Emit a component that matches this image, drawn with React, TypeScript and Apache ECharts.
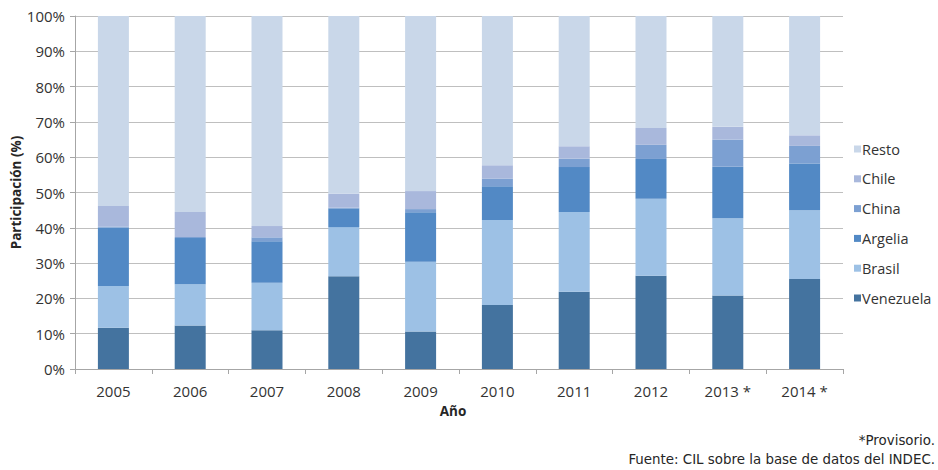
import React, { useEffect, useRef } from "react";
import * as echarts from "echarts";

const years = ["2005", "2006", "2007", "2008", "2009", "2010", "2011", "2012", "2013 *", "2014 *"];
const venezuela = [11.7, 12.3, 11.0, 26.3, 10.6, 18.1, 21.9, 26.4, 20.8, 25.5];
const brasil = [11.8, 11.7, 13.4, 13.9, 19.8, 24.1, 22.6, 21.8, 21.9, 19.5];
const argelia = [16.6, 13.1, 11.8, 5.3, 14.0, 9.6, 12.7, 11.3, 14.6, 13.2];
const china = [0.3, 0.3, 1.1, 0.2, 0.9, 2.2, 2.4, 4.0, 7.7, 5.0];
const chile = [5.8, 7.1, 3.2, 4.0, 5.1, 3.7, 3.5, 4.8, 3.6, 3.0];
const resto = [53.8, 55.5, 59.5, 50.3, 49.6, 42.3, 36.9, 31.7, 31.4, 33.8];
const yTicks = [0, 10, 20, 30, 40, 50, 60, 70, 80, 90, 100];

const FONT = "'Open Sans', 'Liberation Sans', sans-serif";
const NOTE_FONT = "DejaVu Sans";

const seriesDefs = [
  { name: "Venezuela", data: venezuela, color: "#44739f" },
  { name: "Brasil", data: brasil, color: "#9dc1e5" },
  { name: "Argelia", data: argelia, color: "#5289c5" },
  { name: "China", data: china, color: "#7ca0d2" },
  { name: "Chile", data: chile, color: "#a9b8dc" },
  { name: "Resto", data: resto, color: "#c9d7e9" },
];

export default function App() {
  const ref = useRef<HTMLDivElement>(null);
  useEffect(() => {
    if (!ref.current) return;
    const chart = echarts.init(ref.current, null, { renderer: "svg" });
    chart.setOption({
      animation: false,
      backgroundColor: "#ffffff",
      textStyle: { fontFamily: FONT },
      grid: { left: 75, right: 95, top: 16, bottom: 101, containLabel: false, outerBoundsMode: "none" },
      legend: {
        orient: "vertical",
        left: 854,
        top: 140,
        padding: 0,
        itemWidth: 7,
        itemHeight: 7,
        itemGap: 11.8,
        icon: "rect",
        data: ["Resto", "Chile", "China", "Argelia", "Brasil", "Venezuela"],
        textStyle: { fontFamily: FONT, fontSize: 14.5, color: "#333333", lineHeight: 18, padding: [0, 0, 0, -4] },
      },
      xAxis: {
        type: "category",
        data: years,
        name: "Año",
        nameLocation: "middle",
        nameGap: 35,
        nameMoveOverlap: false,
        nameTextStyle: { fontFamily: FONT, fontSize: 13.5, fontWeight: "bold", color: "#262626", padding: [0, 12, 0, 0] },
        axisLine: { lineStyle: { color: "#a6a6a6", width: 1 } },
        axisTick: { show: true, alignWithLabel: false, length: 5, lineStyle: { color: "#a6a6a6" } },
        axisLabel: { fontFamily: FONT, fontSize: 15, color: "#333333", margin: 14 },
      },
      yAxis: {
        type: "value",
        min: 0,
        max: 100,
        interval: 10,
        name: "Participación (%)",
        nameLocation: "middle",
        nameGap: 52,
        nameMoveOverlap: false,
        nameTextStyle: { fontFamily: FONT, fontSize: 13.5, fontWeight: "bold", color: "#262626" },
        axisLine: { show: true, lineStyle: { color: "#a6a6a6", width: 1 } },
        axisTick: { show: true, length: 5, lineStyle: { color: "#a6a6a6" } },
        axisLabel: {
          fontFamily: FONT,
          fontSize: 15,
          color: "#333333",
          margin: 10,
          formatter: (v: number) => (yTicks.includes(v) ? v + "%" : ""),
        },
        splitLine: { lineStyle: { color: "#bfbfbf", width: 1.2 } },
      },
      series: seriesDefs.map((s) => ({
        name: s.name,
        type: "bar",
        stack: "total",
        data: s.data,
        barWidth: 31,
        itemStyle: { color: s.color },
      })),
      graphic: [
        {
          type: "text",
          right: 3,
          top: 434,
          style: { text: "*Provisorio.", fontFamily: NOTE_FONT, fontSize: 13.4, fill: "#262626", textAlign: "right" },
        },
        {
          type: "text",
          right: 3,
          top: 453,
          style: {
            text: "Fuente: CIL sobre la base de datos del INDEC.",
            fontFamily: NOTE_FONT,
            fontSize: 13.4,
            fill: "#262626",
            textAlign: "right",
          },
        },
      ],
    });
    return () => chart.dispose();
  }, []);
  return <div ref={ref} style={{ position: "fixed", left: 0, top: 0, width: 938, height: 470 }} />;
}
